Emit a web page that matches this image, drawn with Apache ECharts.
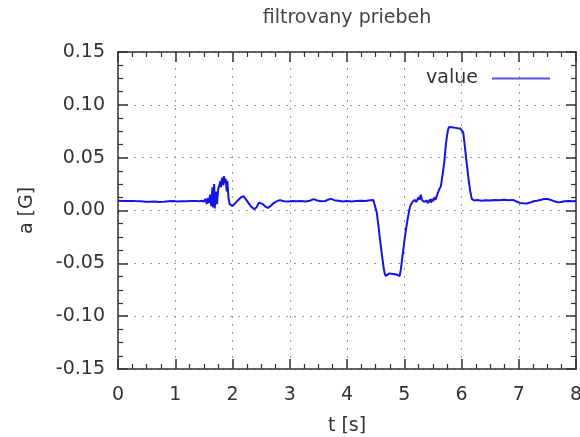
<!DOCTYPE html>
<html>
<head>
<meta charset="utf-8">
<script src="https://cdn.jsdelivr.net/npm/echarts@6/dist/echarts.min.js"></script>
<style>
  html, body { margin: 0; padding: 0; background: #fff; }
  #chart { width: 580px; height: 437px; }
</style>
</head>
<body>
<div id="chart"></div>
<script>
// Time stamps [s] of the filtered acceleration trace
const times = [
  0.00, 0.10, 0.20, 0.30, 0.40, 0.48, 0.56, 0.64, 0.72, 0.80, 0.88, 0.96, 1.04, 1.12, 1.20, 1.28, 1.36, 1.42,
  1.46, 1.50, 1.53, 1.55, 1.57, 1.59, 1.61, 1.63, 1.65, 1.66, 1.68, 1.69, 1.71, 1.73, 1.75, 1.77, 1.79, 1.80,
  1.82, 1.84, 1.85, 1.87, 1.88, 1.90, 1.91, 1.93, 1.95, 1.97, 2.00, 2.05, 2.10, 2.15, 2.19, 2.23, 2.28, 2.33,
  2.38, 2.42, 2.46, 2.49, 2.53, 2.58, 2.62, 2.67, 2.72, 2.78, 2.83, 2.90, 2.98, 3.05, 3.12, 3.20, 3.28, 3.35,
  3.42, 3.48, 3.55, 3.62, 3.68, 3.72, 3.78, 3.85, 3.92, 4.00, 4.08, 4.16, 4.24, 4.32, 4.40, 4.46, 4.49,
  4.52, 4.55, 4.58, 4.61, 4.64, 4.66, 4.68, 4.71, 4.74, 4.77, 4.80, 4.83, 4.86, 4.89, 4.92, 4.94,
  4.97, 5.00, 5.03, 5.06, 5.09, 5.11, 5.13, 5.15, 5.17, 5.19, 5.21, 5.23, 5.25, 5.27, 5.29, 5.31, 5.33,
  5.35, 5.37, 5.39, 5.41, 5.43, 5.45, 5.47, 5.49, 5.51, 5.53, 5.55, 5.57, 5.59, 5.61, 5.64, 5.67, 5.70,
  5.72, 5.74, 5.76, 5.78, 5.80, 5.82, 5.84, 5.86, 5.88, 5.90, 5.92, 5.94, 5.96, 5.98, 6.00, 6.03, 6.06,
  6.09, 6.12, 6.15, 6.18, 6.22, 6.28, 6.35, 6.42, 6.50, 6.58, 6.66, 6.74, 6.82, 6.90, 6.96, 7.02, 7.08,
  7.14, 7.20, 7.26, 7.32, 7.38, 7.44, 7.50, 7.56, 7.62, 7.68, 7.74, 7.80, 7.88, 7.95, 8.00
];

// Acceleration [G] at each time stamp
const accel = [
  0.0092, 0.0090, 0.0091, 0.0089, 0.0088, 0.0083, 0.0082, 0.0085, 0.0080, 0.0083, 0.0087, 0.0089, 0.0086, 0.0088, 0.0087, 0.0089, 0.0090, 0.0088,
  0.0092, 0.0085, 0.0110, 0.0060, 0.0120, 0.0070, 0.0150, 0.0040, 0.0220, 0.0030, 0.0250, 0.0020, 0.0180, 0.0060, 0.0200, 0.0240, 0.0280, 0.0220,
  0.0310, 0.0240, 0.0325, 0.0260, 0.0300, 0.0180, 0.0280, 0.0120, 0.0060, 0.0050, 0.0042, 0.0070, 0.0100, 0.0125, 0.0135, 0.0110, 0.0070, 0.0035,
  0.0012, 0.0030, 0.0075, 0.0088, 0.0060, 0.0035, 0.0025, 0.0045, 0.0070, 0.0090, 0.0098, 0.0088, 0.0085, 0.0090, 0.0087, 0.0089, 0.0086, 0.0092,
  0.0108, 0.0095, 0.0087, 0.0090, 0.0105, 0.0110, 0.0098, 0.0092, 0.0085, 0.0090, 0.0085, 0.0090, 0.0093, 0.0090, 0.0096, 0.0100, 0.0095,
  -0.0020, -0.0150, -0.0290, -0.0420, -0.0540, -0.0600, -0.0620, -0.0605, -0.0595, -0.0590, -0.0600, -0.0592, -0.0605, -0.0612, -0.0620, -0.0560,
  -0.0430, -0.0300, -0.0180, -0.0080, 0.0010, 0.0050, 0.0040, 0.0085, 0.0070, 0.0100, 0.0080, 0.0095, 0.0125, 0.0105, 0.0150, 0.0100, 0.0115,
  0.0080, 0.0065, 0.0095, 0.0070, 0.0085, 0.0105, 0.0075, 0.0110, 0.0090, 0.0125, 0.0105, 0.0140, 0.0150, 0.0200, 0.0230, 0.0340, 0.0460, 0.0580,
  0.0680, 0.0750, 0.0790, 0.0772, 0.0788, 0.0770, 0.0785, 0.0768, 0.0782, 0.0766, 0.0778, 0.0762, 0.0775, 0.0758, 0.0740, 0.0600, 0.0450,
  0.0310, 0.0190, 0.0110, 0.0095, 0.0100, 0.0092, 0.0098, 0.0094, 0.0100, 0.0096, 0.0102, 0.0098, 0.0100, 0.0085, 0.0072, 0.0068, 0.0066,
  0.0075, 0.0088, 0.0092, 0.0100, 0.0108, 0.0110, 0.0100, 0.0088, 0.0078, 0.0080, 0.0087, 0.0090, 0.0088, 0.0090, 0.0088
];

const seriesName = 'value';
const chartTitle = 'filtrovany priebeh';
const xName = 't [s]';
const yName = 'a [G]';

const FONT = 'DejaVu Sans';
const frameColor = '#333';
const lineColor = '#1414e6';
const gridStyle = { color: '#9a9a9a', width: 1, type: [2, 6] };

const points = times.map((t, i) => [t, accel[i]]);

// Tick marks drawn inside the plot frame, mirrored on all four sides
function frameAxis(extra) {
  return Object.assign({
    axisLine: { show: true, onZero: false, lineStyle: { color: frameColor, width: 1.5 } },
    axisTick: { show: true, inside: true, length: 10, lineStyle: { color: frameColor, width: 1.5 } },
    minorTick: { show: true, splitNumber: 4, length: 5, lineStyle: { color: frameColor, width: 1.2 } },
    minorSplitLine: { show: false }
  }, extra);
}

const chart = echarts.init(document.getElementById('chart'), null, { renderer: 'canvas' });

chart.setOption({
  animation: false,
  backgroundColor: '#fff',
  textStyle: { fontFamily: FONT },
  grid: { left: 118, right: 4, top: 52, bottom: 68, outerBoundsMode: 'none', containLabel: false },
  graphic: [{
    type: 'text',
    x: 347, y: 18,
    style: {
      text: chartTitle,
      font: '19px "DejaVu Sans"',
      fill: '#444',
      align: 'center',
      verticalAlign: 'middle'
    }
  }],
  legend: {
    data: [seriesName],
    right: 25,
    top: 64,
    align: 'right',
    icon: 'rect',
    itemWidth: 58,
    itemHeight: 2,
    itemStyle: { color: '#5555e0' },
    textStyle: { fontFamily: FONT, fontSize: 19, color: '#333', padding: [0, 9, 0, 0] }
  },
  xAxis: [
    frameAxis({
      type: 'value', position: 'bottom', min: 0, max: 8, interval: 1,
      name: xName, nameLocation: 'middle', nameGap: 48,
      nameTextStyle: { fontFamily: FONT, fontSize: 19, color: '#333' },
      axisLabel: { fontFamily: FONT, fontSize: 19, color: '#333', margin: 17 },
      splitLine: { show: true, lineStyle: gridStyle }
    }),
    frameAxis({
      type: 'value', position: 'top', min: 0, max: 8, interval: 1,
      axisLabel: { show: false }, splitLine: { show: false }
    })
  ],
  yAxis: [
    frameAxis({
      type: 'value', position: 'left', min: -0.15, max: 0.15, interval: 0.05,
      name: yName, nameLocation: 'middle', nameGap: 81, nameRotate: 90,
      nameTextStyle: { fontFamily: FONT, fontSize: 19, color: '#333' },
      axisLabel: { fontFamily: FONT, fontSize: 19, color: '#333', margin: 13,
        formatter: v => v.toFixed(2) },
      splitLine: { show: true, lineStyle: gridStyle }
    }),
    frameAxis({
      type: 'value', position: 'right', min: -0.15, max: 0.15, interval: 0.05,
      axisLabel: { show: false }, splitLine: { show: false }
    })
  ],
  series: [{
    name: seriesName,
    type: 'line',
    xAxisIndex: 0,
    yAxisIndex: 0,
    data: points,
    symbol: 'none',
    lineStyle: { color: lineColor, width: 2 },
    itemStyle: { color: lineColor }
  }]
});
</script>
</body>
</html>
